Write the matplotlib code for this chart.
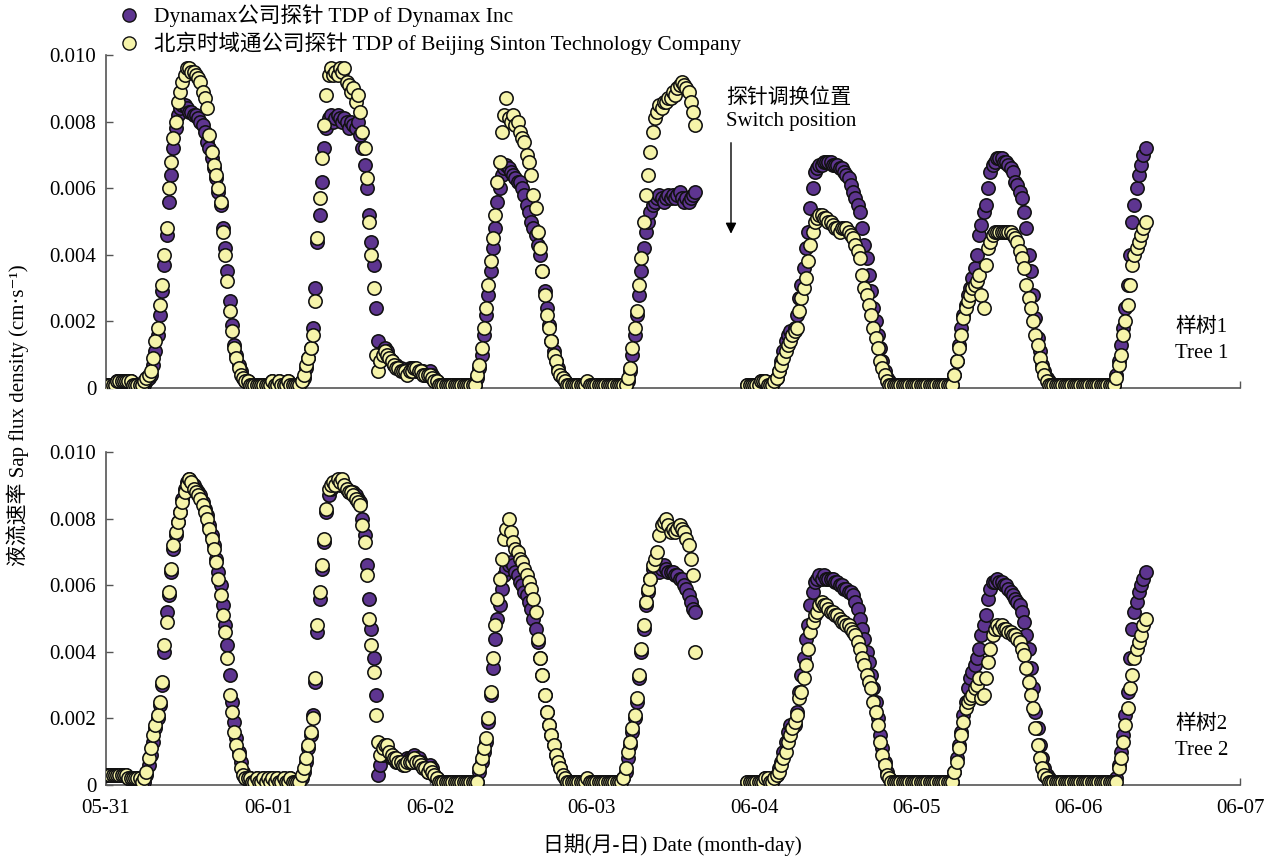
import matplotlib
matplotlib.use("Agg")
import matplotlib.pyplot as plt
from matplotlib.lines import Line2D
import numpy as np

plt.rcParams['font.family'] = ['Liberation Serif', 'Noto Sans CJK SC', 'DejaVu Serif']

# sap flux density, logged every 20 min, in units of 1e-4 cm/s
# one list per day; the 06-03 list stops when the probes were switched
STEP = 1 / 72
UNIT = 1e-4

day_labels = ['05-31', '06-01', '06-02', '06-03', '06-04', '06-05', '06-06', '06-07']
ytick_vals = [0, 0.002, 0.004, 0.006, 0.008, 0.010]
ytick_labels = ['0', '0.002', '0.004', '0.006', '0.008', '0.010']

# ---- tree 1 ----
t1_dyn_0531 = [1, 1, 1, 1, 1, 2, 2, 2, 2, 2, 2, 2, 1, 1, 1, 1,
               1, 1, 2, 3, 4, 7, 11, 16, 22, 29, 37, 46, 56, 64, 72, 78, 82, 84, 85, 85,
               84, 83, 83, 82, 82, 81, 80, 79, 77, 74, 72, 69, 66, 63, 59, 55, 48, 42, 35, 26,
               19, 13, 10, 7, 5, 3, 2, 2, 1, 1, 1, 1, 1, 1, 1, 1]
t1_snt_0531 = [1, 1, 1, 1, 1, 2, 2, 2, 2, 2, 2, 2, 1, 1, 1, 1,
               1, 2, 3, 4, 5, 9, 14, 18, 25, 31, 40, 48, 60, 68, 75, 80, 86, 89, 92, 94,
               96, 96, 95, 95, 94, 93, 92, 89, 87, 84, 76, 71, 67, 64, 60, 56, 47, 40, 32, 23,
               17, 12, 9, 6, 4, 3, 2, 2, 1, 1, 1, 1, 1, 1, 1, 1]
t1_dyn_0601 = [1, 1, 2, 1, 1, 2, 1, 1, 1, 2, 1, 1, 1, 1,
               1, 2, 3, 6, 9, 12, 18, 30, 44, 52, 62, 72, 78, 81, 82, 80, 81, 82, 81, 80,
               81, 80, 78, 80, 79, 78, 80, 76, 72, 67, 60, 52, 44, 37, 24, 14, 8, 11, 12, 11,
               9, 8, 7, 7, 6, 6, 5, 5, 5, 6, 6, 6, 5, 5, 5, 5, 4, 4]
t1_snt_0601 = [1, 1, 2, 1, 1, 2, 1, 1, 1, 2, 1, 1, 1, 1,
               1, 2, 4, 7, 9, 12, 16, 26, 45, 57, 69, 79, 88, 94, 96, 94, 95, 94, 96, 95,
               96, 92, 91, 89, 90, 86, 88, 83, 77, 72, 63, 50, 40, 30, 10, 5, 8, 10, 11, 10,
               9, 8, 7, 6, 6, 5, 5, 5, 4, 5, 5, 6, 6, 5, 5, 4, 4, 4]
t1_dyn_0602 = [5, 4, 3, 2, 1, 1, 1, 1, 1, 1, 1, 1, 1, 1, 1, 1, 1, 1, 1, 1,
               1, 3, 6, 10, 16, 22, 28, 35, 42, 48, 56, 60, 64, 66, 67, 66, 65, 64, 63, 62,
               62, 60, 58, 55, 53, 50, 48, 46, 43, 40, 35, 29, 24, 19, 14, 11, 8, 6, 4, 3,
               2, 1, 1, 1, 1, 1, 1, 1, 1, 1, 1, 1]
t1_snt_0602 = [4, 3, 2, 2, 1, 1, 1, 1, 1, 1, 1, 1, 1, 1, 1, 1, 1, 1, 1, 1,
               1, 4, 7, 12, 18, 24, 31, 38, 45, 52, 62, 68, 77, 82, 87, 81, 80, 82, 79, 80,
               77, 75, 74, 70, 68, 64, 58, 54, 47, 42, 35, 28, 22, 18, 14, 10, 8, 5, 4, 3,
               2, 1, 1, 1, 1, 1, 1, 1, 1, 1, 2, 1]
t1_dyn_0603 = [1, 1, 1, 1, 1, 1, 1, 1, 1, 1, 1, 1, 1, 1, 1, 1,
               2, 5, 10, 16, 22, 28, 35, 42, 47, 50, 53, 55, 56, 57, 58, 57, 56, 57, 58, 57,
               58, 57, 58, 59, 57, 56, 57, 56, 57, 58, 59]
t1_snt_0603 = [1, 1, 1, 1, 1, 1, 1, 1, 1, 1, 1, 1, 1, 1, 1, 1,
               3, 6, 12, 18, 23, 31, 39, 50, 58, 64, 71, 77, 81, 83, 85, 84, 86, 86, 87, 87,
               89, 88, 90, 91, 92, 91, 90, 89, 86, 83, 79]
# logging restarts at 23:00 on 06-03
t1_dyn_restart = [1, 1, 1]
t1_snt_restart = [1, 1, 1]
t1_dyn_0604 = [1, 1, 1, 2, 2, 2, 1, 1,
               1, 2, 3, 5, 8, 11, 14, 16, 17, 16, 18, 22, 27, 31, 36, 42, 47, 54, 60, 65,
               66, 67, 67, 68, 68, 68, 68, 67, 67, 67, 66, 66, 65, 64, 63, 61, 59, 57, 55, 53,
               48, 43, 39, 34, 29, 24, 20, 16, 12, 8, 5, 3, 2,
               1, 1, 1, 1, 1, 1, 1, 1, 1, 1, 1]
t1_snt_0604 = [1, 1, 1, 2, 2, 2, 1, 1,
               1, 2, 3, 5, 7, 9, 11, 13, 14, 16, 17, 18, 23, 27, 30, 33, 38, 43, 47, 50,
               51, 52, 52, 51, 51, 50, 50, 49, 48, 48, 47, 48, 48, 48, 47, 46, 45, 43, 41, 39,
               34, 30, 28, 25, 22, 18, 15, 12, 8, 6, 4, 2, 1,
               1, 1, 1, 1, 1, 1, 1, 1, 1, 1, 1]
t1_dyn_0605 = [1, 1, 1, 1, 1, 1, 1, 1, 1, 1, 1, 1, 1, 1, 1, 1,
               1, 4, 8, 13, 18, 22, 25, 28, 30, 33, 36, 40, 46, 49, 53, 55, 60, 65, 67, 68,
               69, 69, 69, 68, 68, 67, 66, 65, 62, 61, 59, 57, 53, 48, 40, 35, 28, 21, 15, 11,
               7, 5, 3, 2, 1, 1, 1, 1, 1, 1, 1, 1, 1, 1, 1, 1]
t1_snt_0605 = [1, 1, 1, 1, 1, 1, 1, 1, 1, 1, 1, 1, 1, 1, 1, 1,
               1, 4, 8, 12, 16, 21, 24, 26, 28, 30, 31, 32, 34, 28, 24, 37, 42, 44, 46, 47,
               47, 47, 47, 47, 47, 47, 47, 46, 45, 44, 41, 39, 36, 31, 27, 24, 20, 16, 13, 9,
               6, 4, 2, 1, 1, 1, 1, 1, 1, 1, 1, 1, 1, 1, 1, 1]
t1_dyn_0606 = [1, 1, 1, 1, 1, 1, 1, 1, 1, 1, 1, 1, 1, 1, 1, 1,
               1, 4, 8, 13, 18, 24, 31, 40, 50, 55, 60, 64, 67, 70, 72]
t1_snt_0606 = [1, 1, 1, 1, 1, 1, 1, 1, 1, 1, 1, 1, 1, 1, 1, 1,
               1, 3, 7, 10, 16, 20, 25, 31, 37, 40, 42, 44, 46, 48, 50]

# ---- tree 2 ----
t2_dyn_0531 = [3, 3, 3, 3, 3, 3, 3, 3, 3, 3, 2, 2, 2, 2, 2, 2,
               1, 1, 3, 6, 9, 13, 17, 20, 24, 30, 40, 52, 57, 64, 71, 75, 79, 82, 86, 89,
               91, 92, 91, 90, 89, 88, 87, 85, 83, 81, 78, 75, 72, 68, 64, 60, 54, 48, 42, 33,
               25, 19, 14, 10, 7, 4, 2, 2, 2, 1, 1, 2, 1, 1, 2, 1]
t2_snt_0531 = [3, 3, 3, 3, 3, 3, 3, 3, 3, 3, 2, 2, 2, 2, 2, 2,
               1, 2, 4, 8, 11, 15, 18, 21, 25, 31, 42, 49, 58, 65, 72, 76, 79, 82, 85, 88,
               90, 92, 91, 89, 88, 87, 86, 84, 82, 80, 77, 74, 71, 67, 62, 57, 51, 46, 38, 27,
               22, 16, 12, 9, 5, 3, 2, 2, 2, 1, 1, 2, 1, 1, 2, 1]
t2_dyn_0601 = [2, 1, 2, 1, 2, 1, 1, 2, 1, 1, 2, 1, 1, 1,
               1, 2, 4, 7, 11, 15, 21, 31, 46, 56, 65, 73, 82, 87, 89, 90, 91, 91, 90, 91,
               90, 89, 88, 88, 88, 87, 86, 85, 80, 75, 66, 56, 47, 38, 27, 3, 6, 9, 10, 10,
               9, 8, 8, 7, 7, 7, 7, 7, 8, 8, 8, 9, 8, 8, 7, 6, 5, 4]
t2_snt_0601 = [2, 1, 2, 1, 2, 1, 1, 2, 1, 1, 2, 1, 1, 1,
               1, 3, 5, 8, 12, 16, 20, 32, 48, 58, 66, 74, 83, 89, 90, 91, 90, 92, 91, 92,
               90, 89, 88, 88, 87, 86, 85, 84, 78, 73, 63, 50, 42, 34, 21, 13, 9, 11, 12, 12,
               10, 9, 8, 8, 7, 7, 6, 6, 7, 7, 7, 8, 7, 7, 6, 5, 5, 4]
t2_dyn_0602 = [6, 5, 3, 2, 1, 1, 1, 1, 1, 1, 1, 1, 1, 1, 1, 1, 1, 1, 1, 1, 1,
               1, 4, 7, 10, 13, 19, 27, 35, 44, 50, 54, 59, 63, 65, 66, 67, 66, 64, 63,
               61, 60, 58, 57, 55, 53, 50, 47, 43, 38, 33, 27, 22, 18, 15, 12, 9, 7, 5, 3,
               2, 1, 1, 1, 1, 1, 1, 1, 1, 1, 1, 1]
t2_snt_0602 = [5, 4, 3, 2, 1, 1, 1, 1, 1, 1, 1, 1, 1, 1, 1, 1, 1, 1, 1, 1, 1,
               1, 5, 8, 11, 14, 20, 28, 38, 48, 56, 62, 68, 74, 77, 80, 76, 73, 71, 70,
               68, 67, 65, 63, 61, 59, 56, 52, 44, 38, 33, 27, 22, 18, 15, 12, 9, 7, 5, 3,
               2, 1, 1, 1, 1, 1, 1, 1, 1, 1, 2, 1]
t2_dyn_0603 = [1, 1, 1, 1, 1, 1, 1, 1, 1, 1, 1, 1, 1, 1,
               2, 4, 8, 12, 16, 20, 25, 32, 40, 47, 54, 58, 62, 65, 66, 65, 64, 65, 66, 65,
               64, 64, 64, 63, 63, 62, 62, 60, 59, 57, 55, 53, 52]
t2_snt_0603 = [1, 1, 1, 1, 1, 1, 1, 1, 1, 1, 1, 1, 1, 1,
               2, 5, 10, 13, 17, 21, 26, 33, 41, 48, 55, 59, 62, 66, 68, 70, 75, 78, 79, 80,
               78, 76, 77, 76, 77, 78, 77, 76, 74, 72, 68, 63, 40]
t2_dyn_restart = [1, 1, 1]
t2_snt_restart = [1, 1, 1]
t2_dyn_0604 = [1, 1, 1, 1, 1, 2, 2, 1,
               1, 2, 3, 5, 7, 10, 13, 16, 18, 17, 18, 22, 28, 33, 38, 44, 48, 54, 58, 61,
               62, 63, 62, 63, 62, 62, 62, 62, 61, 61, 60, 60, 59, 59, 58, 58, 57, 55, 53, 50,
               47, 44, 40, 37, 33, 29, 25, 20, 15, 11, 7, 4, 2,
               1, 1, 1, 1, 1, 1, 1, 1, 1, 1, 1]
t2_snt_0604 = [1, 1, 1, 1, 1, 2, 2, 1,
               1, 2, 3, 4, 6, 8, 10, 13, 15, 17, 19, 21, 26, 28, 32, 36, 41, 46, 49, 51,
               52, 54, 55, 54, 54, 53, 52, 52, 51, 51, 50, 49, 49, 48, 48, 47, 46, 45, 43, 41,
               38, 36, 33, 31, 29, 25, 22, 18, 13, 9, 6, 3, 2,
               1, 1, 1, 1, 1, 1, 1, 1, 1, 1, 1]
t2_dyn_0605 = [1, 1, 1, 1, 1, 1, 1, 1, 1, 1, 1, 1, 1, 1, 1, 1,
               1, 4, 8, 12, 16, 21, 25, 29, 32, 34, 36, 38, 41, 45, 48, 51, 56, 59, 61, 61,
               62, 61, 61, 60, 60, 59, 58, 57, 56, 55, 54, 52, 49, 45, 41, 35, 29, 22, 17, 12,
               8, 5, 3, 2, 1, 1, 1, 1, 1, 1, 1, 1, 1, 1, 1, 1]
t2_snt_0605 = [1, 1, 1, 1, 1, 1, 1, 1, 1, 1, 1, 1, 1, 1, 1, 1,
               1, 4, 7, 11, 15, 19, 23, 25, 26, 27, 29, 30, 32, 26, 27, 32, 37, 41, 45, 47,
               48, 47, 48, 47, 47, 46, 46, 45, 45, 44, 43, 41, 39, 35, 31, 27, 23, 17, 12, 8,
               5, 3, 2, 1, 1, 1, 1, 1, 1, 1, 1, 1, 1, 1, 1, 1]
t2_dyn_0606 = [1, 1, 1, 1, 1, 1, 1, 1, 1, 1, 1, 1, 1, 1, 1, 1,
               1, 2, 6, 10, 15, 21, 28, 38, 47, 52, 55, 58, 60, 62, 64]
t2_snt_0606 = [1, 1, 1, 1, 1, 1, 1, 1, 1, 1, 1, 1, 1, 1, 1, 1,
               1, 1, 5, 8, 13, 18, 23, 29, 33, 38, 41, 43, 45, 48, 50]


def series(pieces):
    # pieces: (day index, first slot of the day, values)
    xs, ys = [], []
    for day, first, vals in pieces:
        xs.append(day + (first + np.arange(len(vals))) * STEP)
        ys.append(np.array(vals) * UNIT)
    return np.concatenate(xs), np.concatenate(ys)


def pieces_for(d0531, d0601, d0602, d0603, restart, d0604, d0605, d0606):
    return [(0, 0, d0531), (1, 0, d0601), (2, 0, d0602), (3, 0, d0603),
            (3, 69, restart), (4, 0, d0604), (5, 0, d0605), (6, 0, d0606)]


trees = [
    (series(pieces_for(t1_dyn_0531, t1_dyn_0601, t1_dyn_0602, t1_dyn_0603, t1_dyn_restart,
                       t1_dyn_0604, t1_dyn_0605, t1_dyn_0606)),
     series(pieces_for(t1_snt_0531, t1_snt_0601, t1_snt_0602, t1_snt_0603, t1_snt_restart,
                       t1_snt_0604, t1_snt_0605, t1_snt_0606)),
     '样树1\nTree 1'),
    (series(pieces_for(t2_dyn_0531, t2_dyn_0601, t2_dyn_0602, t2_dyn_0603, t2_dyn_restart,
                       t2_dyn_0604, t2_dyn_0605, t2_dyn_0606)),
     series(pieces_for(t2_snt_0531, t2_snt_0601, t2_snt_0602, t2_snt_0603, t2_snt_restart,
                       t2_snt_0604, t2_snt_0605, t2_snt_0606)),
     '样树2\nTree 2'),
]

PURPLE = '#5e3590'
YELLOW = '#f6f4aa'
EDGE = '#111111'
FS = 15

fig = plt.figure(figsize=(12.78, 8.64), dpi=100)
ax_top = fig.add_axes([0.0829, 0.5509, 0.8874, 0.3854])
ax_bot = fig.add_axes([0.0829, 0.0914, 0.8874, 0.3854])

for ax, ((xd, yd), (xs, ys), name) in zip([ax_top, ax_bot], trees):
    ax.scatter(xd, yd, s=92, c=PURPLE, edgecolors=EDGE, linewidths=1.15, zorder=3)
    ax.scatter(xs, ys, s=92, c=YELLOW, edgecolors=EDGE, linewidths=1.15, zorder=4)
    ax.set_xlim(0, 7)
    ax.set_ylim(0, 0.010)
    ax.set_xticks(range(len(day_labels)))
    ax.set_yticks(ytick_vals)
    ax.set_yticklabels(ytick_labels)
    for side in ['top', 'right']:
        ax.spines[side].set_visible(False)
    for side in ['left', 'bottom']:
        ax.spines[side].set_color('#555555')
        ax.spines[side].set_linewidth(1.2)
    ax.tick_params(direction='in', length=5, width=1, color='#555555',
                   labelsize=FS, pad=7)
    ax.text(6.925, 0.00143, name, ha='right', va='center', fontsize=FS,
            linespacing=1.45)

ax_top.set_xticklabels([])
ax_bot.set_xticklabels(day_labels)
ax_bot.tick_params(axis='x', pad=10)

# probe switch note
ax_top.text(3.83, 0.0087, '探针调换位置', fontsize=FS, ha='left', va='center')
ax_top.text(3.83, 0.0080, 'Switch position', fontsize=FS, ha='left', va='center')
ax_top.annotate('', xy=(3.858, 0.00455), xytext=(3.858, 0.00745),
                arrowprops=dict(arrowstyle='-|>', color='black', lw=1,
                                mutation_scale=16))

fig.text(0.014, 0.52, '液流速率 Sap flux density (cm·s⁻¹)',
         rotation=90, ha='center', va='center', fontsize=FS)
fig.text(0.526, 0.022, '日期(月-日) Date (month-day)', ha='center', va='center',
         fontsize=FS)

handles = [Line2D([], [], ls='', marker='o', ms=9.5, mfc=PURPLE, mec=EDGE, mew=1.0),
           Line2D([], [], ls='', marker='o', ms=9.5, mfc=YELLOW, mec=EDGE, mew=1.0)]
fig.legend(handles, ['Dynamax公司探针 TDP of Dynamax Inc',
                     '北京时域通公司探针 TDP of Beijing Sinton Technology Company'],
           loc='upper left', bbox_to_anchor=(0.079, 1.012), frameon=False,
           fontsize=15.5, handletextpad=0.55, labelspacing=0.2, borderpad=0.2,
           handlelength=1.2)

fig.savefig('out.png', dpi=100)
